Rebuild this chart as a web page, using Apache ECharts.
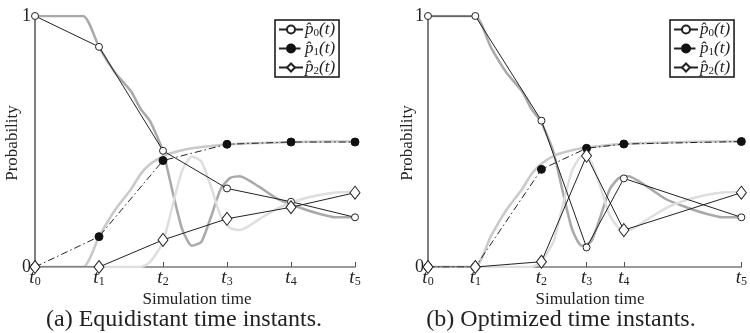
<!DOCTYPE html>
<html lang="en">
<head>
	<meta charset="UTF-8">
	<title>Probability</title>
	<style type="text/css">
	html, body { margin: 0; padding: 0; background: #fff; }
	#chart { width: 750px; height: 333px; }
	</style>
</head>
<body>
	<div id="chart"></div>
	<script type="text/javascript" src="https://cdn.jsdelivr.net/npm/echarts@6/dist/echarts.min.js"></script>
	<script type="text/javascript">

		// time instants (fraction of the simulated span)
		var tEqui = [0, 0.2, 0.4, 0.6, 0.8, 1];
		var tOpt = [0, 0.151, 0.362, 0.506, 0.625, 1];
		var tickNames = ['0', '1', '2', '3', '4', '5'];

		// approximations at the time instants
		var p0Equi = [1, 0.877, 0.463, 0.313, 0.26, 0.198];
		var p1Equi = [0, 0.121, 0.424, 0.489, 0.498, 0.498];
		var p2Equi = [0, 0, 0.108, 0.192, 0.238, 0.296];
		var p0Opt = [1, 1, 0.583, 0.078, 0.353, 0.198];
		var p1Opt = [0, 0, 0.389, 0.473, 0.49, 0.5];
		var p2Opt = [0, 0, 0.021, 0.443, 0.147, 0.296];

		// exact curves (gray)
		var tExact = [0, 0.15, 0.2, 0.25, 0.3, 0.33, 0.36, 0.4, 0.43, 0.46, 0.49, 0.52, 0.55, 0.58, 0.61, 0.64, 0.7, 0.76, 0.82, 0.88, 0.94, 1];
		var p0Exact = [1, 1, 0.877, 0.775, 0.7, 0.63, 0.58, 0.46, 0.3, 0.15, 0.085, 0.1, 0.2, 0.31, 0.355, 0.362, 0.32, 0.27, 0.24, 0.215, 0.198, 0.198];
		var p1Exact = [0, 0, 0.121, 0.227, 0.31, 0.37, 0.41, 0.442, 0.455, 0.465, 0.473, 0.478, 0.482, 0.486, 0.489, 0.491, 0.494, 0.496, 0.498, 0.499, 0.5, 0.5];
		var p2Exact = [0, 0, 0, 0, 0, 0, 0.02, 0.1, 0.245, 0.385, 0.44, 0.42, 0.32, 0.205, 0.155, 0.147, 0.19, 0.235, 0.265, 0.285, 0.297, 0.3];

		var serif = '"Liberation Serif", "DejaVu Serif", serif';
		var chart = echarts.init(document.getElementById('chart'));

		function zip (xs, ys) {
			return xs.map(function (x, i) { return [x, ys[i]]; });
		}

		function tickLabel (ts) {
			return function (v) {
				var i = ts.indexOf(v);
				return '{t|t}{s|' + tickNames[i] + '}';
			};
		}

		var gridLeft = [35, 428];
		var tSets = [tEqui, tOpt];
		var approx = [[p0Equi, p1Equi, p2Equi], [p0Opt, p1Opt, p2Opt]];
		var exactColors = ['#a9a9a9', '#c9c9c9', '#dedede'];
		var exact = [p0Exact, p1Exact, p2Exact];

		var grids = [], xAxes = [], yAxes = [], series = [], legends = [];

		for (var g = 0; g < 2; g++) {
			grids.push({ left: gridLeft[g], top: 16, width: 320, height: 251 });
			xAxes.push({
				type: 'value', gridIndex: g, min: 0, max: 1,
				splitLine: { show: false },
				axisLine: { lineStyle: { color: '#7a7a7a', width: 1.5 } },
				axisTick: { inside: true, length: 5, customValues: tSets[g], lineStyle: { color: '#555' } },
				axisLabel: {
					customValues: tSets[g], margin: 0,
					formatter: tickLabel(tSets[g]),
					rich: {
						t: { fontFamily: serif, fontStyle: 'italic', fontSize: 19, color: '#222' },
						s: { fontFamily: serif, fontSize: 12, color: '#222', padding: [9, 0, 0, 0] }
					}
				}
			});
			yAxes.push({
				type: 'value', gridIndex: g, min: 0, max: 1, interval: 1,
				splitLine: { show: false },
				axisLine: { show: true, lineStyle: { color: '#555', width: 1.5 } },
				axisTick: { show: false },
				axisLabel: { fontFamily: serif, fontSize: 18, color: '#222', margin: 4 }
			});

			for (var k = 0; k < 3; k++) {
				series.push({
					type: 'line', xAxisIndex: g, yAxisIndex: g,
					data: zip(tExact, exact[k]),
					smooth: 0.2, showSymbol: false, silent: true, z: 1,
					lineStyle: { color: exactColors[k], width: 2.5 }
				});
			}

			var a = approx[g];
			series.push({
				name: 'p0', type: 'line', xAxisIndex: g, yAxisIndex: g, z: 5,
				data: zip(tSets[g], a[0]),
				symbol: 'circle', symbolSize: 7,
				itemStyle: { color: '#fff', borderColor: '#222', borderWidth: 1 },
				lineStyle: { color: '#222', width: 1 }
			});
			series.push({
				name: 'p1', type: 'line', xAxisIndex: g, yAxisIndex: g, z: 5,
				data: zip(tSets[g], a[1]),
				symbol: 'circle', symbolSize: 8,
				itemStyle: { color: '#111', borderColor: '#111', borderWidth: 1 },
				lineStyle: { color: '#222', width: 1, type: [7, 3, 1.5, 3] }
			});
			series.push({
				name: 'p2', type: 'line', xAxisIndex: g, yAxisIndex: g, z: 5,
				data: zip(tSets[g], a[2]),
				symbol: 'diamond', symbolSize: [10, 13],
				itemStyle: { color: '#fff', borderColor: '#222', borderWidth: 1 },
				lineStyle: { color: '#222', width: 1 }
			});
		}

		var legendLeft = [275, 670];
		for (var l = 0; l < 2; l++) {
			legends.push({
				left: legendLeft[l], top: 20, orient: 'vertical',
				data: ['p0', 'p1', 'p2'],
				itemWidth: 24, itemHeight: 10, itemGap: 0,
				padding: [0, 4, 0, 3],
				backgroundColor: '#fff', borderColor: '#111', borderWidth: 1.5, borderRadius: 0,
				selectedMode: false,
				formatter: function (name) {
					return '{p|p\u0302}{s|' + name.charAt(1) + '}{p|(t)}';
				},
				textStyle: {
					padding: [0, 0, 0, -3],
					rich: {
						p: { fontFamily: serif, fontStyle: 'italic', fontSize: 17, color: '#222', lineHeight: 18 },
						s: { fontFamily: serif, fontSize: 11, color: '#222', padding: [8, 0, 0, 0], lineHeight: 18 }
					}
				}
			});
		}

		function txt (x, y, text, size, rot) {
			return {
				type: 'text', x: x, y: y, rotation: rot || 0,
				style: { text: text, fontFamily: serif, fontSize: size, fill: '#222', align: 'center', verticalAlign: 'middle' }
			};
		}

		var option = {
			animation: false,
			grid: grids,
			xAxis: xAxes,
			yAxis: yAxes,
			legend: legends,
			series: series,
			graphic: [
				txt(13, 143, 'Probability', 17, Math.PI / 2),
				txt(408, 143, 'Probability', 17, Math.PI / 2),
				txt(197, 300, 'Simulation time', 17),
				txt(590, 300, 'Simulation time', 17),
				txt(184, 320, '(a) Equidistant time instants.', 24),
				txt(561, 320, '(b) Optimized time instants.', 24)
			]
		};

		chart.setOption(option);

	</script>
</body>
</html>
